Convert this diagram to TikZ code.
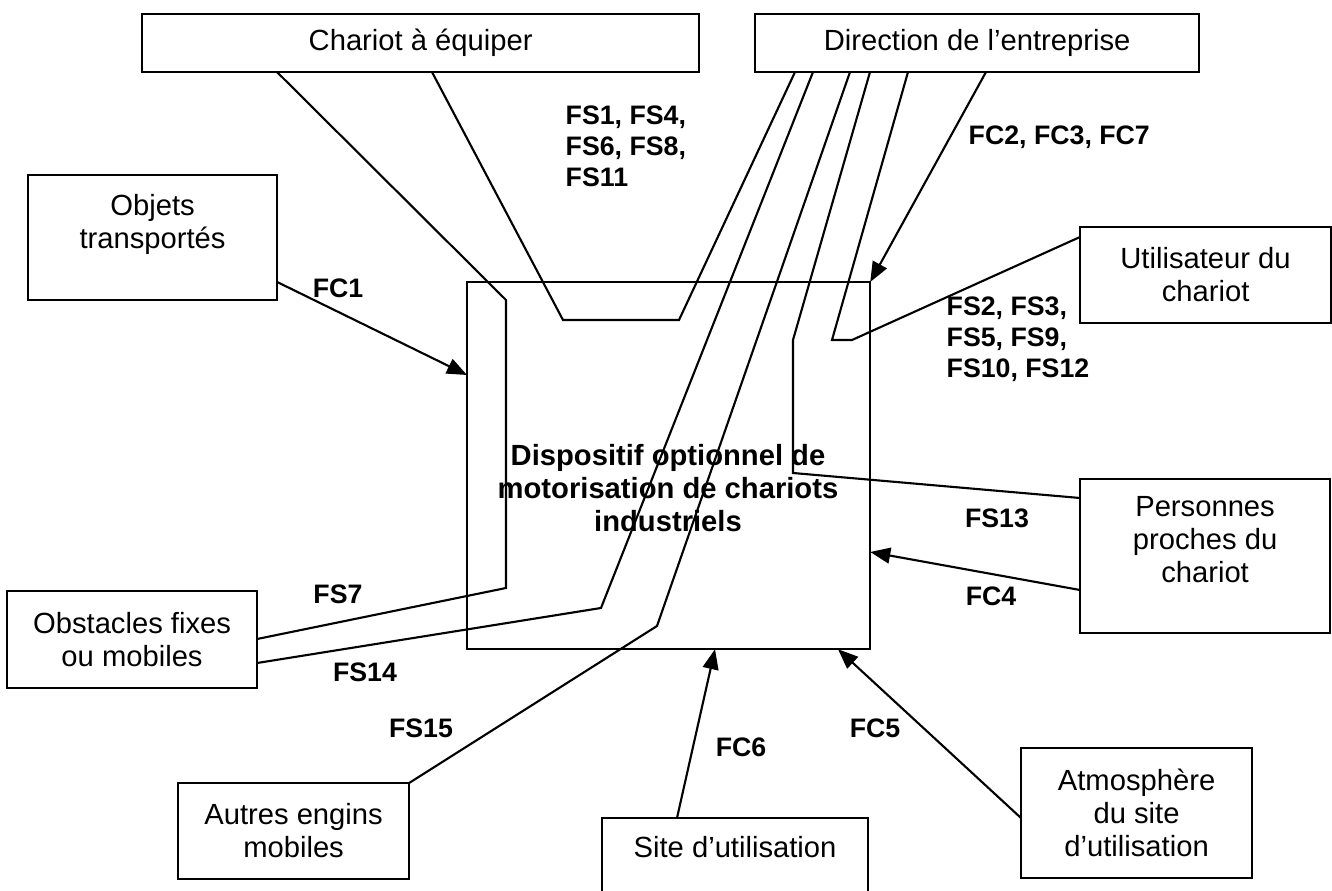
\documentclass[tikz,border=0pt]{standalone}
\usepackage{fontspec}
\setmainfont{Liberation Sans}
\usetikzlibrary{arrows.meta}

\begin{document}
\begin{tikzpicture}[x=0.01cm, y=-0.01cm,
    bloc/.style={draw, line width=0.6pt, inner sep=0pt, outer sep=0pt, anchor=north west, align=center, font=\fontsize{8.3}{9.4}\selectfont},
    etiq/.style={inner sep=0pt, font=\bfseries\fontsize{7.6}{8.8}\selectfont},
    fleche/.style={line width=0.6pt, -{Triangle[length=5.7pt, width=4.5pt]}},
    trait/.style={line width=0.6pt, line join=miter}]
  \useasboundingbox (0,0) rectangle (1332,891);
  \clip (0,0) rectangle (1332,891);

  % les milieux exterieurs
  \node[bloc, minimum width=5.57cm, minimum height=0.58cm] (chariot) at (142,14) {Chariot à équiper};
  \node[bloc, minimum width=4.44cm, minimum height=0.58cm] (direction) at (755,14) {Direction de l’entreprise};
  \node[bloc, minimum width=2.49cm, minimum height=1.25cm] (objets) at (28,175) {Objets\\transportés\\~};
  \node[bloc, minimum width=2.51cm, minimum height=0.96cm] (utilisateur) at (1080,227) {Utilisateur du\\chariot};
  \node[bloc, minimum width=2.50cm, minimum height=1.54cm] (personnes) at (1080,479) {Personnes\\proches du\\chariot\\~};
  \node[bloc, minimum width=2.50cm, minimum height=0.97cm] (obstacles) at (7,591) {Obstacles fixes\\ou mobiles};
  \node[bloc, minimum width=2.31cm, minimum height=0.96cm] (autres) at (178,783) {Autres engins\\mobiles};
  \node[bloc, minimum width=2.66cm, minimum height=0.91cm] (site) at (602,818) {Site d’utilisation\\~};
  \node[bloc, minimum width=2.31cm, minimum height=1.30cm] (atmos) at (1021,748) {Atmosphère\\du site\\d’utilisation};

  % le produit
  \node[bloc, minimum width=4.03cm, minimum height=3.67cm] (dispo) at (467,282) {};
  \node[align=center, inner sep=0pt, font=\bfseries\fontsize{8.3}{9.3}\selectfont] (dispotxt) at (668,488) {Dispositif optionnel de\\motorisation de chariots\\industriels};

  % fonctions de service
  \draw[trait] (277,0 |- chariot.south) -- (506,300) -- (506,588) -- (obstacles.east |- 0,639);
  \draw[trait] (432,0 |- chariot.south) -- (563,320) -- (679,320) -- (795,0 |- direction.south);
  \draw[trait] (813,0 |- direction.south) -- (601,608) -- (obstacles.east |- 0,663);
  \draw[trait] (850,0 |- direction.south) -- (657,626) -- (autres.north east);
  \draw[trait] (870,0 |- direction.south) -- (793,340) -- (793,473) -- (personnes.west |- 0,498);
  \draw[trait] (908,0 |- direction.south) -- (832,340) -- (852,340) -- (utilisateur.west |- 0,237);

  % fonctions contraintes
  \draw[fleche] (986,0 |- direction.south) -- (dispo.north east);
  \draw[fleche] (objets.east |- 0,282) -- (dispo.west |- 0,375);
  \draw[fleche] (personnes.west |- 0,590) -- (dispo.east |- 0,552);
  \draw[fleche] (677,0 |- site.north) -- (715,0 |- dispo.south);
  \draw[fleche] (atmos.west |- 0,818) -- (838,0 |- dispo.south);

  % etiquettes
  \node[etiq, anchor=west, align=left] (fs1) at (565,146) {FS1, FS4,\\FS6, FS8,\\FS11};
  \node[etiq, anchor=west] (fc2) at (968,137) {FC2, FC3, FC7};
  \node[etiq, anchor=west, align=left] (fs2) at (946,339) {FS2, FS3,\\FS5, FS9,\\FS10, FS12};
  \node[etiq] (fc1) at (338,288) {FC1};
  \node[etiq] (fs13) at (997,518) {FS13};
  \node[etiq] (fc4) at (991,596) {FC4};
  \node[etiq] (fs7) at (338,594) {FS7};
  \node[etiq] (fs14) at (365,672) {FS14};
  \node[etiq] (fs15) at (421,728) {FS15};
  \node[etiq] (fc6) at (741,747) {FC6};
  \node[etiq] (fc5) at (875,728) {FC5};
\end{tikzpicture}
\end{document}
